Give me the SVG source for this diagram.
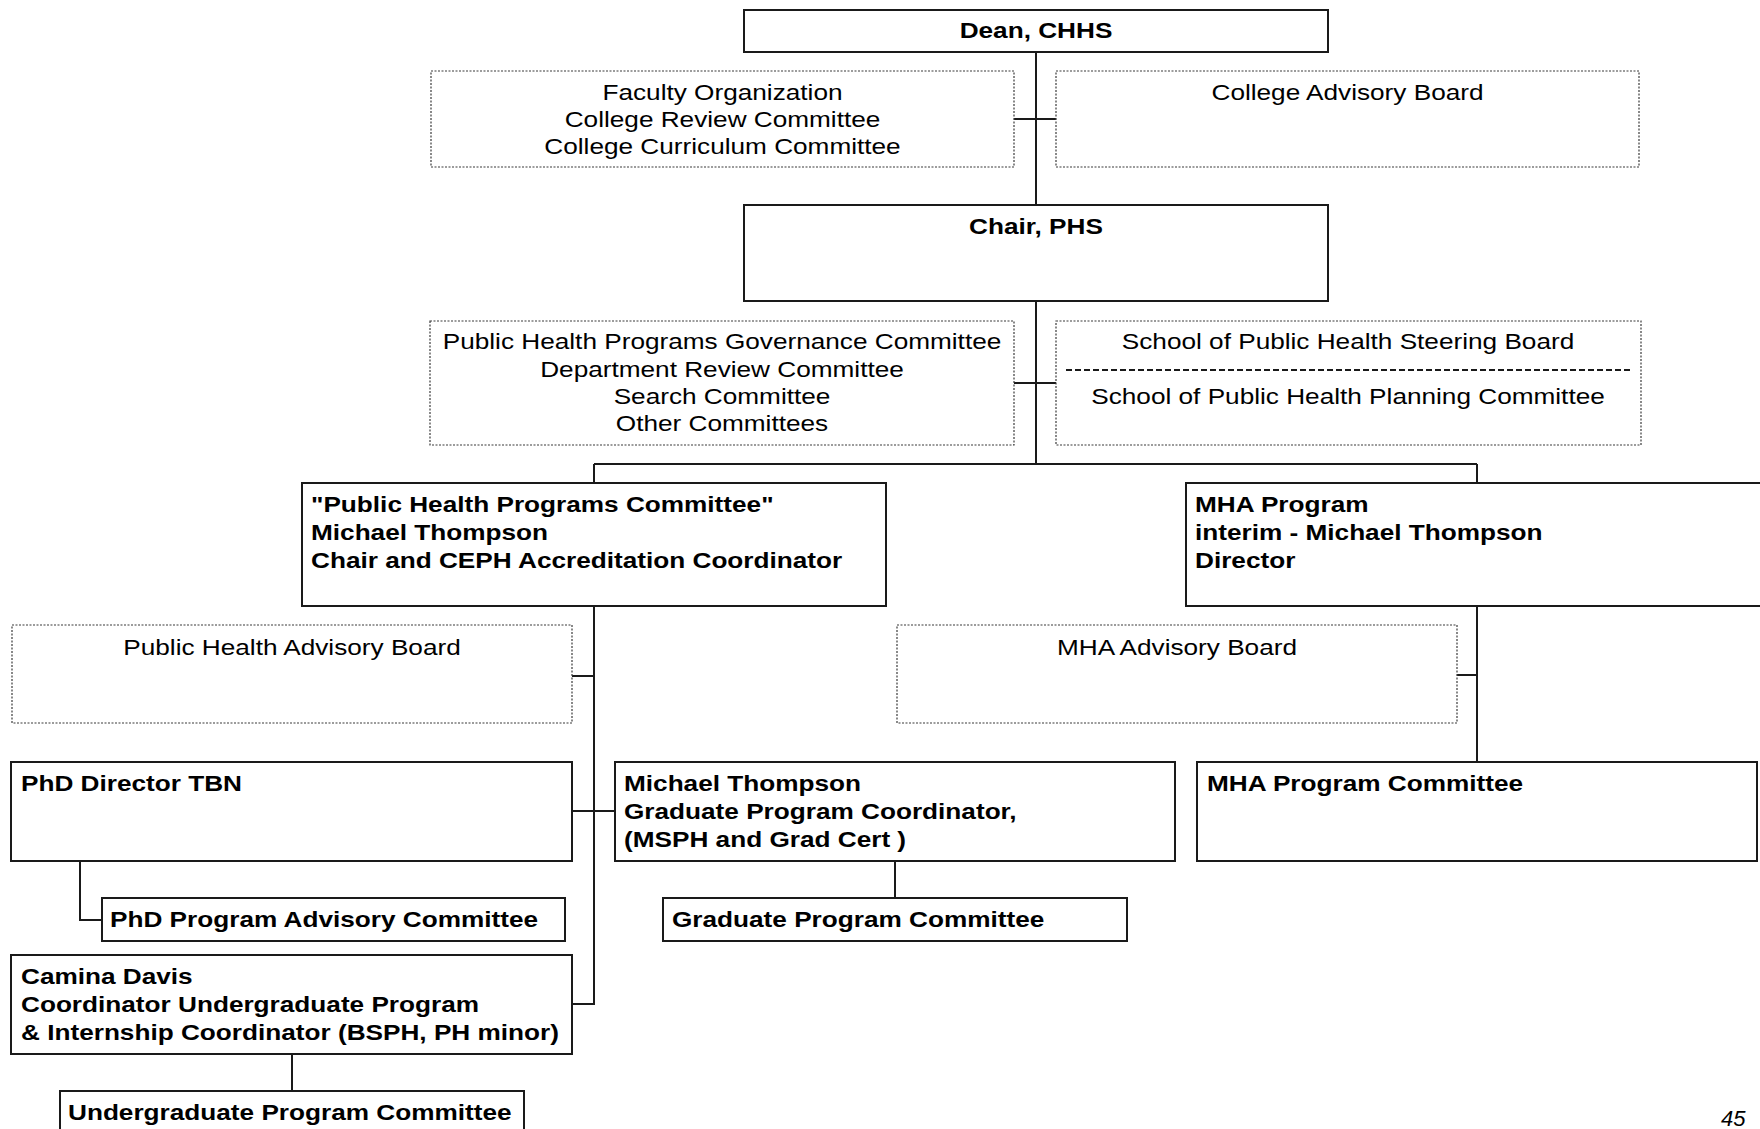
<svg xmlns="http://www.w3.org/2000/svg" width="1760" height="1129" viewBox="0 0 1760 1129">
<style>
.box{fill:#fff;stroke:#1a1a1a;stroke-width:2}
.dot{fill:#fff;stroke:#3a3a3a;stroke-width:1.2;stroke-dasharray:2 1.5}
.conn{fill:none;stroke:#1a1a1a;stroke-width:2}
text{font-family:"Liberation Sans",Arial,sans-serif;font-size:22px;fill:#000}
.b{font-weight:bold}
.c{text-anchor:middle}
</style>
<rect width="1760" height="1129" fill="#fff"/>
<g id="connectors">
<path class="conn" d="M1036 52V205M1014 119H1056M1036 301V464M1014 383H1056M594 464H1477M594 464V483M1477 464V483"/>
<path class="conn" d="M594 606V1004H572M572 676H594M572 811H615M1477 606V762M1457 675H1477"/>
<path class="conn" d="M80 861V920H102M895 861V898M292 1054V1091"/>
</g>
<g id="dean">
<rect class="box" x="744" y="10" width="584" height="42"/>
<text class="b c" transform="matrix(1.19 0 0 1 1036 38)">Dean, CHHS</text>
</g>
<g id="faculty-org">
<rect class="dot" x="431" y="71" width="583" height="96"/>
<text class="c" transform="matrix(1.19 0 0 1 722.5 100)">Faculty Organization</text>
<text class="c" transform="matrix(1.19 0 0 1 722.5 127)">College Review Committee</text>
<text class="c" transform="matrix(1.19 0 0 1 722.5 154)">College Curriculum Committee</text>
</g>
<g id="college-advisory">
<rect class="dot" x="1056" y="71" width="583" height="96"/>
<text class="c" transform="matrix(1.19 0 0 1 1347.5 100)">College Advisory Board</text>
</g>
<g id="chair">
<rect class="box" x="744" y="205" width="584" height="96"/>
<text class="b c" transform="matrix(1.19 0 0 1 1036 234)">Chair, PHS</text>
</g>
<g id="ph-committees">
<rect class="dot" x="430" y="321" width="584" height="124"/>
<text class="c" transform="matrix(1.19 0 0 1 722 349)">Public Health Programs Governance Committee</text>
<text class="c" transform="matrix(1.19 0 0 1 722 377)">Department Review Committee</text>
<text class="c" transform="matrix(1.19 0 0 1 722 404)">Search Committee</text>
<text class="c" transform="matrix(1.19 0 0 1 722 431)">Other Committees</text>
</g>
<g id="sph-boards">
<rect class="dot" x="1056" y="321" width="585" height="124"/>
<text class="c" transform="matrix(1.19 0 0 1 1348 349)">School of Public Health Steering Board</text>
<line x1="1066" y1="370" x2="1631" y2="370" stroke="#1a1a1a" stroke-width="2" stroke-dasharray="6 3"/>
<text class="c" transform="matrix(1.19 0 0 1 1348 404)">School of Public Health Planning Committee</text>
</g>
<g id="phpc">
<rect class="box" x="302" y="483" width="584" height="123"/>
<text class="b" transform="matrix(1.19 0 0 1 311 512)">"Public Health Programs Committee"</text>
<text class="b" transform="matrix(1.19 0 0 1 311 540)">Michael Thompson</text>
<text class="b" transform="matrix(1.19 0 0 1 311 568)">Chair and CEPH Accreditation Coordinator</text>
</g>
<g id="mha-program">
<rect class="box" x="1186" y="483" width="580" height="123"/>
<text class="b" transform="matrix(1.19 0 0 1 1195 512)">MHA Program</text>
<text class="b" transform="matrix(1.19 0 0 1 1195 540)">interim - Michael Thompson</text>
<text class="b" transform="matrix(1.19 0 0 1 1195 568)">Director</text>
</g>
<g id="ph-advisory">
<rect class="dot" x="12" y="625" width="560" height="98"/>
<text class="c" transform="matrix(1.19 0 0 1 292 655)">Public Health Advisory Board</text>
</g>
<g id="mha-advisory">
<rect class="dot" x="897" y="625" width="560" height="98"/>
<text class="c" transform="matrix(1.19 0 0 1 1177 655)">MHA Advisory Board</text>
</g>
<g id="phd-director">
<rect class="box" x="11" y="762" width="561" height="99"/>
<text class="b" transform="matrix(1.19 0 0 1 21 791)">PhD Director TBN</text>
</g>
<g id="grad-coordinator">
<rect class="box" x="615" y="762" width="560" height="99"/>
<text class="b" transform="matrix(1.19 0 0 1 624 791)">Michael Thompson</text>
<text class="b" transform="matrix(1.19 0 0 1 624 819)">Graduate Program Coordinator,</text>
<text class="b" transform="matrix(1.19 0 0 1 624 847)">(MSPH and Grad Cert )</text>
</g>
<g id="mha-committee">
<rect class="box" x="1197" y="762" width="560" height="99"/>
<text class="b" transform="matrix(1.19 0 0 1 1207 791)">MHA Program Committee</text>
</g>
<g id="phd-advisory-committee">
<rect class="box" x="102" y="898" width="463" height="43"/>
<text class="b" transform="matrix(1.19 0 0 1 110 927)">PhD Program  Advisory Committee</text>
</g>
<g id="grad-committee">
<rect class="box" x="663" y="898" width="464" height="43"/>
<text class="b" transform="matrix(1.19 0 0 1 672 927)">Graduate Program Committee</text>
</g>
<g id="undergrad-coordinator">
<rect class="box" x="11" y="955" width="561" height="99"/>
<text class="b" transform="matrix(1.19 0 0 1 21 984)">Camina Davis</text>
<text class="b" transform="matrix(1.19 0 0 1 21 1012)">Coordinator Undergraduate Program</text>
<text class="b" transform="matrix(1.19 0 0 1 21 1040)">&amp; Internship Coordinator (BSPH, PH minor)</text>
</g>
<g id="undergrad-committee">
<rect class="box" x="60" y="1091" width="464" height="45"/>
<text class="b" transform="matrix(1.19 0 0 1 68 1120)">Undergraduate Program Committee</text>
</g>
<text x="1721" y="1126" style="font-size:22px;font-style:italic">45</text>
</svg>
